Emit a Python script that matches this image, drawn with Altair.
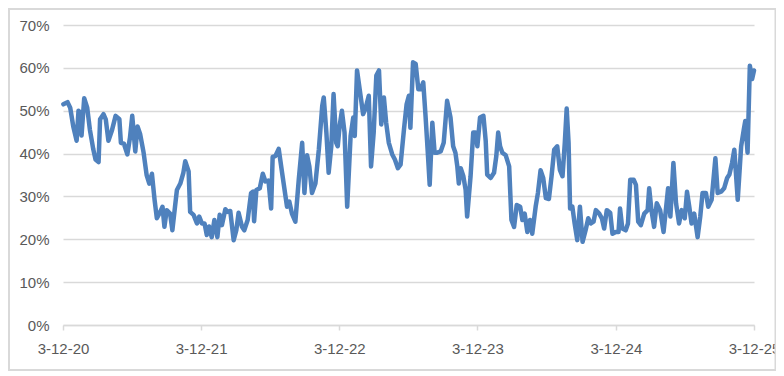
import altair as alt
import pandas as pd

# days since 3 Dec 2020 and share values (%)
day_offsets = [
    1, 12, 19, 27, 36, 41, 45, 49, 56, 64, 71, 80, 86, 94, 98, 107, 113, 120, 129, 139,
    149, 153, 161, 170, 177, 183, 191, 197, 204, 213, 221, 228, 235, 242, 248, 257, 263, 268, 274, 283,
    289, 296, 301, 310, 318, 323, 332, 336, 345, 354, 360, 367, 374, 380, 386, 393, 400, 408, 414, 420,
    429, 435, 442, 451, 458, 464, 473, 479, 488, 497, 502, 505, 511, 520, 528, 535, 543, 550, 554, 561,
    570, 579, 588, 592, 598, 605, 614, 623, 632, 638, 645, 651, 658, 667, 676, 685, 689, 696, 702, 709,
    715, 722, 726, 731, 737, 744, 751, 760, 767, 771, 777, 784, 793, 799, 808, 814, 821, 828, 835, 841,
    848, 854, 861, 870, 877, 885, 892, 901, 908, 914, 918, 925, 932, 939, 945, 952, 958, 964, 969, 976,
    982, 989, 998, 1006, 1015, 1024, 1031, 1037, 1042, 1046, 1051, 1058, 1064, 1068, 1077, 1084, 1090, 1095, 1102, 1111,
    1117, 1121, 1130, 1139, 1145, 1150, 1155, 1161, 1170, 1179, 1185, 1192, 1199, 1208, 1214, 1220, 1227, 1234, 1240, 1249,
    1255, 1262, 1269, 1276, 1284, 1291, 1298, 1306, 1313, 1320, 1326, 1331, 1336, 1340, 1346, 1352, 1359, 1366, 1373, 1381,
    1388, 1395, 1402, 1408, 1417, 1424, 1430, 1437, 1446, 1452, 1461, 1468, 1472, 1478, 1487, 1493, 1499, 1508, 1514, 1520,
    1527, 1536, 1545, 1549, 1555, 1562, 1569, 1578, 1587, 1593, 1599, 1605, 1613, 1620, 1628, 1635, 1643, 1649, 1655, 1661,
    1668, 1677, 1684, 1690, 1699, 1705, 1714, 1724, 1730, 1739, 1747, 1755, 1761, 1768, 1774, 1783, 1792, 1799, 1803, 1809,
    1815, 1821, 1826,
]
values_pct = [
    51.5, 52.0, 50.7, 46.4, 43.0, 50.0, 49.6, 44.2, 52.9, 50.7, 45.6, 41.0, 38.6, 38.0, 48.0, 49.2, 48.0, 43.0, 45.3, 48.8,
    48.0, 42.5, 42.3, 39.8, 43.7, 48.8, 40.5, 46.3, 44.5, 40.2, 35.0, 33.0, 35.3, 29.2, 24.9, 26.4, 27.6, 22.9, 26.8, 26.0,
    22.1, 27.6, 31.5, 33.0, 35.5, 38.2, 35.8, 26.4, 25.7, 23.7, 25.3, 23.7, 23.7, 21.0, 23.0, 20.5, 24.5, 20.5, 25.7, 23.3,
    27.0, 26.4, 26.6, 19.8, 22.1, 26.2, 22.9, 22.1, 24.5, 30.8, 31.1, 24.2, 31.5, 31.9, 35.3, 33.5, 33.7, 27.2, 39.2, 39.4,
    41.1, 35.5, 30.0, 27.6, 28.8, 26.0, 24.1, 33.9, 42.5, 30.8, 39.6, 37.0, 30.8, 33.0, 40.9, 51.1, 53.1, 44.9, 35.5, 41.7,
    53.9, 42.5, 41.7, 46.4, 50.0, 44.9, 27.6, 44.1, 48.4, 44.1, 59.4, 55.0, 49.2, 50.4, 53.5, 37.0, 44.9, 58.2, 59.4, 46.8,
    53.1, 47.2, 42.5, 39.8, 38.6, 36.6, 37.4, 45.6, 51.5, 53.5, 46.0, 61.3, 60.9, 55.0, 55.0, 56.6, 48.8, 40.2, 32.7, 47.2,
    40.2, 40.2, 40.5, 42.5, 52.3, 48.4, 41.7, 40.2, 37.0, 33.0, 36.6, 34.7, 31.5, 25.3, 34.7, 44.9, 44.9, 41.7, 48.4, 48.8,
    43.0, 35.1, 34.3, 35.5, 39.4, 44.9, 41.7, 40.2, 39.6, 37.0, 24.5, 22.9, 28.0, 27.6, 24.5, 26.0, 21.7, 24.5, 21.3, 27.6,
    30.8, 36.1, 34.3, 29.6, 29.4, 34.7, 40.9, 41.7, 36.2, 34.7, 42.5, 50.5, 42.5, 27.2, 27.6, 23.7, 19.8, 27.6, 19.4, 22.1,
    24.9, 23.7, 24.1, 26.8, 26.0, 24.9, 22.5, 26.8, 26.2, 21.3, 21.7, 21.7, 27.2, 22.5, 22.1, 23.7, 33.9, 33.9, 32.7, 24.1,
    23.3, 26.0, 26.8, 31.9, 26.8, 22.9, 28.4, 26.8, 21.7, 26.8, 31.9, 25.3, 37.8, 28.4, 23.7, 26.8, 24.9, 31.1, 27.6, 23.7,
    26.0, 20.5, 25.3, 30.8, 30.8, 27.6, 29.2, 38.9, 30.8, 31.1, 31.9, 34.3, 35.1, 37.8, 40.9, 29.2, 41.7, 45.6, 47.6, 40.2,
    60.5, 57.4, 59.4,
]
y_ticks = [0, 0.1, 0.2, 0.3, 0.4, 0.5, 0.6, 0.7]
x_tick_years = [2020, 2021, 2022, 2023, 2024, 2025]

start = pd.Timestamp("2020-12-03")
dates = [(start + pd.Timedelta(days=d)).strftime("%Y-%m-%dT%H:%M:%S") for d in day_offsets]
df = pd.DataFrame({"date": dates, "value": [v / 100 for v in values_pct]})

FONT = "Liberation Sans"
GREY_TXT = "#595959"
GRID = "#d9d9d9"

x_vals = [alt.DateTime(year=y, month=12, date=3) for y in x_tick_years]

line = alt.Chart(df).mark_line(
    color="#4F81BD", strokeWidth=4.5, strokeJoin="round", strokeCap="round"
).encode(
    x=alt.X(
        "date:T",
        title=None,
        scale=alt.Scale(domain=[x_vals[0], x_vals[-1]], nice=False),
        axis=alt.Axis(
            values=x_vals,
            labelExpr="timeFormat(datum.value, '%-d-%m-%y')",
            grid=False,
            domainColor=GRID,
            domainWidth=1.5,
            tickColor=GRID,
            tickWidth=1.5,
            tickSize=5,
            labelPadding=11,
            labelFont=FONT,
            labelFontSize=15,
            labelColor=GREY_TXT,
            labelFlush=False,
            labelOverlap=False,
        ),
    ),
    y=alt.Y(
        "value:Q",
        title=None,
        scale=alt.Scale(domain=[0, 0.7], nice=False),
        axis=alt.Axis(
            values=y_ticks,
            format=".0%",
            domain=False,
            ticks=False,
            gridColor=GRID,
            gridWidth=1.5,
            labelPadding=14,
            labelFont=FONT,
            labelFontSize=15,
            labelColor=GREY_TXT,
        ),
    ),
)

border = alt.Chart(pd.DataFrame({"a": [0]})).mark_rect(
    fill="white", fillOpacity=0, stroke=GRID, strokeWidth=2, clip=False
).encode(
    x=alt.value(-54), x2=alt.value(712.5), y=alt.value(-16), y2=alt.value(345)
)

chart = alt.layer(border, line).properties(
    width=691,
    height=300,
    autosize=alt.AutoSizeParams(type="none"),
    padding={"left": 55, "top": 17, "right": 22, "bottom": 47},
).configure_view(stroke=None)

chart.save("out.html", embed_options={"renderer": "svg", "actions": False})
